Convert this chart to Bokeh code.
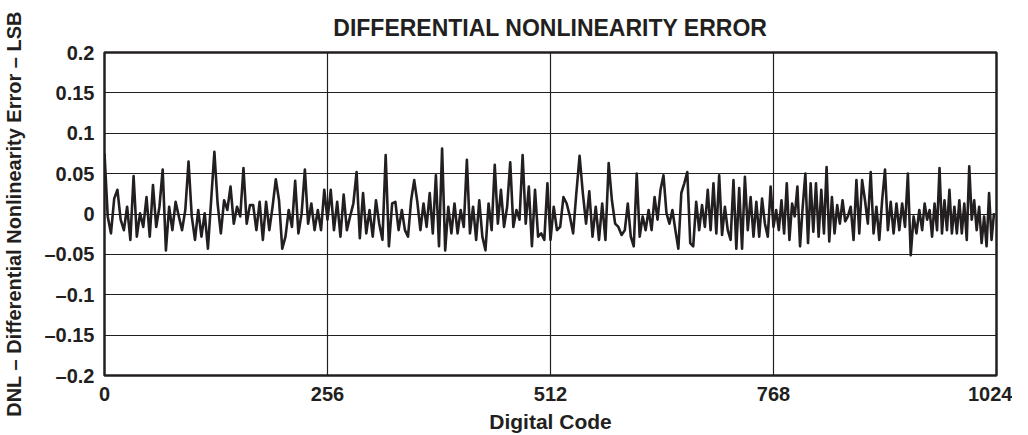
import numpy as np
from bokeh.plotting import figure
from bokeh.models import FixedTicker, Range1d
from bokeh.embed import file_html
from bokeh.resources import INLINE

# DNL values, in 12 consecutive blocks of codes (0..1024)
seg01 = [0.075, -0.003, -0.024, 0.019, 0.030, -0.007, -0.020, 0.009, -0.032, 0.047, -0.028, 0.001,
         -0.016, 0.021, -0.028, 0.036, -0.016, 0.009, 0.055, -0.045, 0.009, -0.020, 0.015]
seg02 = [-0.003, -0.020, 0.005, 0.065, -0.003, -0.032, 0.005, -0.028, 0.001, -0.043, 0.017, 0.077,
         0.013, -0.024, 0.017, 0.005, 0.034, -0.012, 0.009, -0.003, 0.057, -0.012, 0.011]
seg03 = [0.011, -0.020, 0.015, -0.032, 0.015, -0.020, 0.009, 0.043, 0.017, -0.043, -0.028, 0.005,
         -0.016, 0.041, -0.024, 0.001, 0.055, -0.012, 0.013, -0.020, 0.005, -0.020, 0.030]
seg04 = [-0.007, 0.030, -0.020, 0.015, -0.028, 0.024, -0.020, -0.003, 0.013, 0.052, -0.030, 0.026,
         -0.024, 0.005, -0.028, 0.017, -0.012, -0.032, 0.073, -0.040, 0.013, 0.015, -0.020]
seg05 = [0.005, -0.020, -0.028, 0.017, 0.042, 0.015, -0.020, 0.013, -0.016, 0.026, -0.024, 0.048,
         -0.040, 0.081, -0.045, 0.009, -0.024, 0.013, -0.024, 0.005, -0.016, 0.067, -0.024, 0.009]
seg06 = [-0.032, 0.017, -0.028, -0.045, 0.013, -0.020, 0.061, -0.012, 0.030, -0.016, 0.009, 0.064,
         -0.016, 0.005, -0.007, 0.073, -0.012, 0.034, -0.040, 0.030, -0.028, -0.024, -0.032, 0.038]
seg07 = [-0.032, 0.009, -0.020, -0.016, 0.021, 0.013, -0.003, -0.024, 0.026, 0.072, 0.026, -0.012,
         0.028, -0.028, 0.009, -0.032, 0.013, -0.032, 0.063, 0.017, -0.012, -0.016, -0.026]
seg08 = [-0.020, 0.013, -0.028, -0.040, 0.050, -0.028, -0.003, -0.020, 0.005, -0.020, 0.021, -0.007,
         0.030, 0.048, 0.001, -0.012, 0.005, -0.020, -0.043, 0.026, 0.038, 0.052, -0.036, -0.040, 0.015]
seg09 = [-0.020, 0.011, -0.016, 0.030, -0.020, 0.038, -0.024, 0.048, -0.026, 0.009, -0.020, -0.032,
         0.042, -0.043, 0.032, -0.043, 0.046, -0.020, 0.021, -0.028, 0.015, -0.028, 0.019, -0.012,
         -0.028, 0.034]
seg10 = [-0.016, 0.005, -0.020, 0.017, -0.024, 0.038, -0.032, 0.013, -0.003, 0.034, -0.040, 0.009,
         0.050, -0.036, 0.038, -0.022, 0.038, -0.028, 0.030, -0.024, 0.058, -0.034, 0.021, -0.024,
         0.011, -0.012, 0.017, -0.009]
seg11 = [-0.003, 0.009, -0.032, 0.042, -0.024, 0.042, 0.017, -0.012, 0.052, -0.024, 0.009, -0.032,
         0.017, 0.055, -0.020, 0.015, -0.024, 0.013, -0.020, 0.013, -0.016, 0.050, -0.051, -0.003,
         -0.024, 0.005]
seg12 = [-0.020, 0.013, -0.007, 0.005, -0.028, 0.013, -0.020, 0.057, -0.024, 0.017, -0.020, 0.030,
         -0.024, 0.009, -0.024, 0.017, -0.024, 0.013, -0.032, 0.059, -0.007, 0.017, -0.020, 0.009,
         -0.036, -0.003, -0.040, 0.026, -0.032, 0.001]

segments = [seg01, seg02, seg03, seg04, seg05, seg06, seg07, seg08, seg09, seg10, seg11, seg12]

x_ticks = [0, 256, 512, 768, 1024]
y_ticks = [0.2, 0.15, 0.1, 0.05, 0, -0.05, -0.1, -0.15, -0.2]
y_tick_labels = ["0.2", "0.15", "0.1", "0.05", "0", "\u20130.05", "\u20130.1", "\u20130.15", "\u20130.2"]
title_text = "DIFFERENTIAL NONLINEARITY ERROR"

CODE_MAX = 1024
block = CODE_MAX / len(segments)
codes = np.concatenate([np.linspace(k * block, (k + 1) * block, len(s), endpoint=False)
                        for k, s in enumerate(segments)])
dnl = np.concatenate([np.array(s, dtype=float) for s in segments])

FONT = "Liberation Sans"
INK = "#231f20"

p = figure(width=1012, height=435, output_backend="svg", toolbar_location=None,
           x_range=Range1d(0, 1024), y_range=Range1d(-0.2, 0.2),
           min_border_left=95, min_border_right=16, min_border_top=51, min_border_bottom=60,
           title=title_text)

p.title.align = "center"
p.title.text_font = FONT
p.title.text_font_size = "23px"
p.title.text_font_style = "bold"
p.title.text_color = INK
p.title.standoff = 24

p.line(codes, dnl, line_color=INK, line_width=2.6, line_join="round")

p.xaxis.ticker = FixedTicker(ticks=x_ticks)
p.yaxis.ticker = FixedTicker(ticks=y_ticks)
p.yaxis.major_label_overrides = {t: l for t, l in zip(y_ticks, y_tick_labels)}
p.xaxis.major_label_overrides = {t: str(t) for t in x_ticks}

for ax in (p.xaxis, p.yaxis):
    ax.axis_line_color = None
    ax.major_tick_line_color = None
    ax.minor_tick_line_color = None
    ax.major_label_text_font = FONT
    ax.major_label_text_font_size = "20px"
    ax.major_label_text_font_style = "bold"
    ax.major_label_text_color = INK
    ax.axis_label_text_font = FONT
    ax.axis_label_text_font_size = "20px"
    ax.axis_label_text_font_style = "bold"
    ax.axis_label_text_color = INK

p.xaxis.axis_label_text_font_size = "21px"
p.xaxis.axis_label = "Digital Code"
p.yaxis.axis_label = "DNL \u2013 Differential Nonlinearity Error \u2013 LSB"
p.xaxis.major_label_standoff = 5
p.yaxis.major_label_standoff = 4
p.xaxis.axis_label_standoff = 6
p.yaxis.axis_label_standoff = 16

p.xgrid.ticker = FixedTicker(ticks=x_ticks)
p.ygrid.ticker = FixedTicker(ticks=y_ticks)
p.grid.grid_line_color = INK
p.grid.grid_line_width = 1.2
p.grid.grid_line_alpha = 1.0

p.outline_line_color = INK
p.outline_line_width = 2.5
p.background_fill_color = "white"
p.border_fill_color = "white"

open("out.html", "w").write(file_html(p, INLINE))
